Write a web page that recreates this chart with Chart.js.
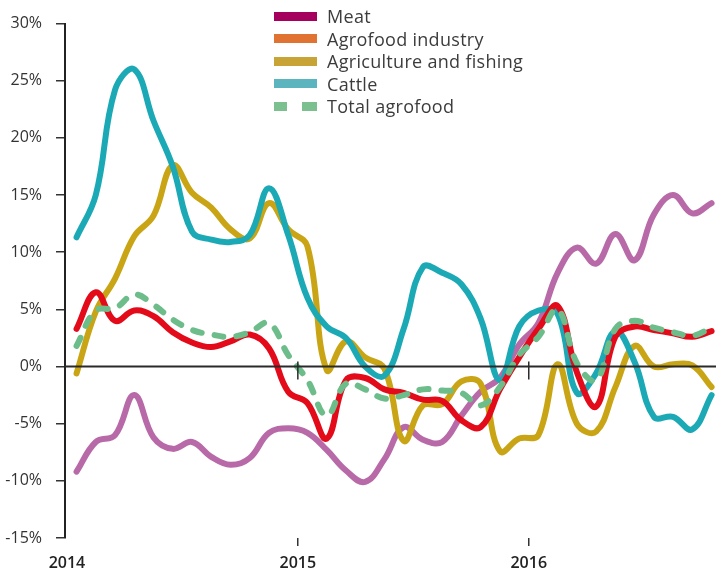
<!DOCTYPE html>
<html><head><meta charset="utf-8">
<script src="https://cdn.jsdelivr.net/npm/chart.js@4.4.1/dist/chart.umd.min.js"></script>
<style>
html,body{margin:0;padding:0;background:#fff;}
#wrap{position:relative;width:716px;height:573px;}
#legend{position:absolute;left:274px;top:5px;font-family:"Open Sans",sans-serif;font-size:18px;letter-spacing:0.3px;color:#3c3c3c;}
.row{height:22.5px;display:flex;align-items:center;white-space:nowrap;}
.sw{width:43px;height:9px;margin-right:10px;display:flex;}
.sw span{display:block;height:9px;}
</style></head>
<body><div id="wrap"><canvas id="c" width="716" height="573"></canvas><div id="legend"></div></div>
<script>
const months = ['Jan 2014','Feb 2014','Mar 2014','Apr 2014','May 2014','Jun 2014','Jul 2014','Aug 2014','Sep 2014','Oct 2014','Nov 2014','Dec 2014',
  'Jan 2015','Feb 2015','Mar 2015','Apr 2015','May 2015','Jun 2015','Jul 2015','Aug 2015','Sep 2015','Oct 2015','Nov 2015','Dec 2015',
  'Jan 2016','Feb 2016','Mar 2016','Apr 2016','May 2016','Jun 2016','Jul 2016','Aug 2016','Sep 2016','Oct 2016'];
const yearLabels = ['2014','2015','2016'];

const meat = [-9.2,-6.6,-6.0,-2.5,-6.2,-7.2,-6.6,-7.9,-8.6,-8.0,-5.8,-5.4,-5.8,-7.3,-9.1,-10.1,-8.1,-5.3,-6.4,-6.6,-4.3,-2.2,-1.0,1.9,3.8,8.2,10.4,9.0,11.6,9.3,13.3,15.0,13.4,14.3];
const agrofoodIndustry = [3.3,6.5,4.0,4.9,4.4,3.0,2.1,1.7,2.2,2.8,1.6,-2.2,-3.2,-6.3,-1.2,-1.0,-2.0,-2.3,-2.9,-3.0,-4.7,-5.3,-2.0,0.8,3.3,5.3,-0.5,-3.5,2.6,3.5,3.2,2.9,2.6,3.1];
const agricultureFishing = [-0.6,4.8,7.7,11.4,13.2,17.6,15.2,13.9,12.0,11.2,14.3,12.0,10.5,-0.3,2.2,0.8,-0.2,-6.5,-3.4,-3.3,-1.3,-1.5,-7.4,-6.3,-6.0,0.2,-5.0,-5.7,-1.8,1.8,0.0,0.2,0.1,-1.8];
const cattle = [11.3,15.0,24.2,26.0,21.5,17.5,11.8,11.1,10.9,11.5,15.6,11.5,6.0,3.5,2.5,0.0,-0.8,3.3,8.7,8.2,7.2,4.2,-1.2,3.5,4.9,4.6,-2.3,-0.6,3.1,0.4,-4.4,-4.4,-5.5,-2.5];
const totalAgrofood = [1.8,4.9,5.1,6.3,5.4,4.1,3.2,2.8,2.6,3.0,3.8,1.0,-1.2,-4.3,-1.5,-2.0,-2.8,-2.5,-2.0,-2.1,-2.3,-3.4,-1.8,1.0,2.6,5.0,0.3,-1.2,3.3,4.0,3.4,3.0,2.7,3.4];

const seriesNames = ['Meat','Agrofood industry','Agriculture and fishing','Cattle','Total agrofood'];
const lineColors = ['#b86aa8','#e30a1a','#c9a516','#1ca9b6','#6dbd8b'];
const legendColors = ['#a6005f','#e07232','#c8a437','#5bb4be','#7cc08f'];
const seriesData = [meat, agrofoodIndustry, agricultureFishing, cattle, totalAgrofood];
const drawOrder = [4,1,3,2,0];

// HTML legend
const leg = document.getElementById('legend');
seriesNames.forEach((n,i)=>{
  const row = document.createElement('div'); row.className='row';
  const sw = document.createElement('div'); sw.className='sw';
  if(i===4){
    sw.innerHTML = '<span style="width:13px;margin-right:15px;background:'+legendColors[i]+'"></span><span style="width:15px;background:'+legendColors[i]+'"></span>';
  } else {
    sw.innerHTML = '<span style="width:43px;background:'+legendColors[i]+'"></span>';
  }
  const t = document.createElement('span'); t.textContent = n;
  row.appendChild(sw); row.appendChild(t); leg.appendChild(row);
});

const zeroLine = {id:'zeroLine', afterDatasetsDraw(chart){
  const {ctx, chartArea:a, scales:{x,y}} = chart;
  const y0 = y.getPixelForValue(0);
  ctx.save(); ctx.strokeStyle='#2a2a2a'; ctx.lineWidth=2;
  ctx.beginPath(); ctx.moveTo(a.left,y0); ctx.lineTo(a.right,y0); ctx.stroke();
  ctx.lineWidth=1.5;
  x.ticks.forEach(t=>{ if(t.value===0) return; const px=x.getPixelForValue(t.value);
    ctx.beginPath(); ctx.moveTo(px,y0-5); ctx.lineTo(px,y0+13); ctx.stroke();});
  ctx.restore();
}};

const datasets = seriesNames.map((n,i)=>({
  label:n,
  data: seriesData[i].map((v,k)=>({x:k+0.5,y:v})),
  borderColor: lineColors[i],
  borderWidth: 6,
  borderDash: i===4 ? [9,13] : [],
  borderCapStyle: 'round',
  borderJoinStyle:'round',
  tension:0.4,
  pointRadius:0,
  fill:false,
  order: drawOrder[i]
}));

new Chart(document.getElementById('c'),{
  type:'line',
  data:{datasets},
  plugins:[zeroLine],
  options:{
    responsive:false, animation:false,
    layout:{padding:{top:15,right:0,bottom:0,left:0}},
    plugins:{legend:{display:false},tooltip:{enabled:false}},
    scales:{
      x:{type:'linear',min:-0.1,max:33.73,
        afterBuildTicks:(ax)=>{ax.ticks = yearLabels.map((l,i)=>({value:i*12}));},
        afterFit:(ax)=>{ax.height=35;},
        grid:{drawOnChartArea:false,drawTicks:true,tickLength:8,lineWidth:1.5,
          color:(c)=> (c.tick && c.tick.value===0) ? 'rgba(0,0,0,0)' : '#333'},
        border:{display:false},
        ticks:{padding:8,color:'#222',font:{family:'"Open Sans"',size:16,weight:600},
          maxRotation:0,autoSkip:false,
          callback:(v)=> yearLabels[Math.round(v/12)] }
      },
      y:{min:-15,max:30,
        afterFit:(ax)=>{ax.width=65;},
        grid:{drawOnChartArea:false,drawTicks:true,tickLength:9,lineWidth:1.5,color:'#333'},
        border:{display:true,color:'#222',width:2},
        ticks:{stepSize:5,padding:14,color:'#333',font:{family:'"Open Sans"',size:16},
          callback:(v)=> v+'%'}
      }
    }
  }
});
</script>
</body></html>
